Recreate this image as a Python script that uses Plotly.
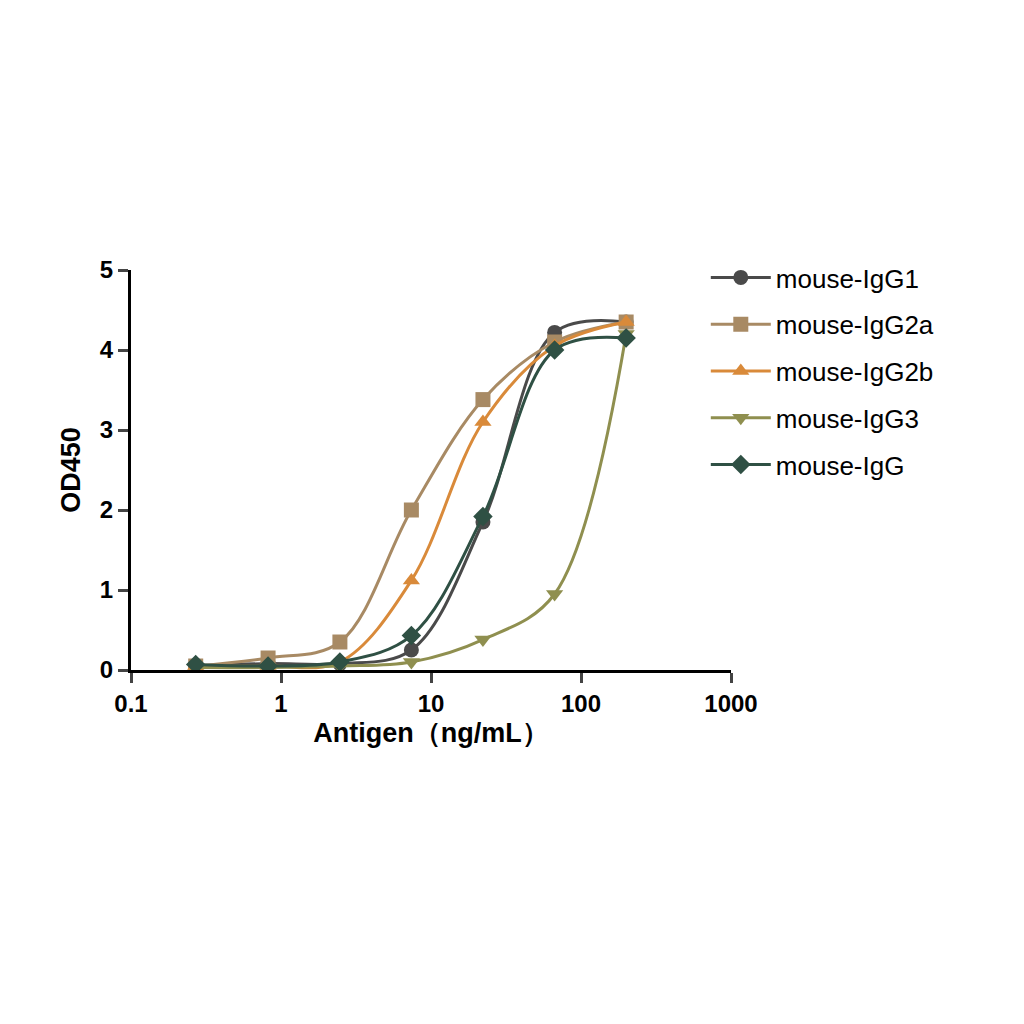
import plotly.graph_objects as go

conc = [0.27, 0.82, 2.47, 7.4, 22.2, 66.7, 200]
names = ["mouse-IgG1", "mouse-IgG2a", "mouse-IgG2b", "mouse-IgG3", "mouse-IgG"]
igg1 = [0.05, 0.08, 0.08, 0.25, 1.85, 4.22, 4.35]
igg2a = [0.05, 0.15, 0.35, 2.0, 3.38, 4.1, 4.35]
igg2b = [0.05, 0.05, 0.1, 1.12, 3.1, 4.05, 4.35]
igg3 = [0.03, 0.03, 0.05, 0.1, 0.38, 0.95, 4.2]
igg = [0.07, 0.05, 0.1, 0.43, 1.92, 4.0, 4.15]
series = [igg1, igg2a, igg2b, igg3, igg]
colors = ["#4a4a4a", "#a88a64", "#d98a3a", "#8f8f4f", "#2f5044"]
symbols = ["circle", "square", "triangle-up", "triangle-down", "diamond"]

fig = go.Figure()
for n, s, c, m in zip(names, series, colors, symbols):
    fig.add_trace(go.Scatter(x=conc, y=s, name=n, mode="lines+markers", legendgroup=n,
                             line=dict(color=c, width=3, shape="spline", smoothing=1.0),
                             marker=dict(color=c, symbol=m, size=15)))

axfont = dict(family="Liberation Sans, Arial", size=24, color="black")
fig.update_layout(
    width=1024, height=1024, plot_bgcolor="white", paper_bgcolor="white",
    margin=dict(l=123, r=301, t=262, b=362),
    font=dict(family="Liberation Sans, Arial", color="black"),
    legend=dict(x=0.958, y=1.04, xanchor="left", yanchor="top",
                font=dict(size=26), itemwidth=60, tracegroupgap=10),
    xaxis=dict(type="log", range=[-1, 3], tickvals=[0.1, 1, 10, 100, 1000],
               ticktext=["<b>0.1</b>", "<b>1</b>", "<b>10</b>", "<b>100</b>", "<b>1000</b>"],
               showgrid=False, showline=True, linecolor="black", linewidth=3,
               ticks="outside", ticklen=10, tickwidth=3, tickfont=axfont,
               title=dict(text="<b>Antigen（ng/mL）</b>", font=dict(size=27), standoff=8),
               zeroline=False),
    yaxis=dict(range=[0, 5], tickvals=[0, 1, 2, 3, 4, 5],
               ticktext=["<b>%d</b>" % v for v in range(6)],
               showgrid=False, showline=True, linecolor="black", linewidth=3,
               ticks="outside", ticklen=10, tickwidth=3, tickfont=axfont,
               title=dict(text="<b>OD450</b>", font=dict(size=27), standoff=12),
               zeroline=False),
)
fig.write_html("out.html")
